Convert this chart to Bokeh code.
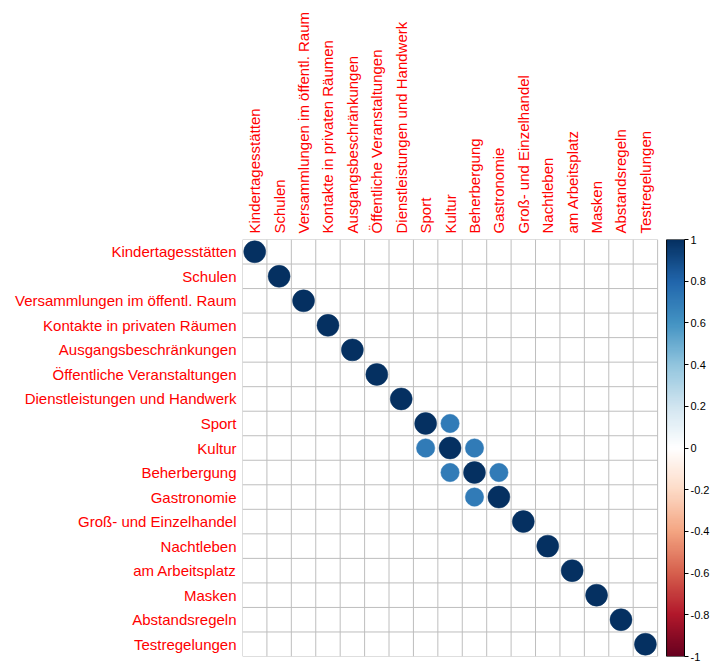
import numpy as np
from math import pi
from bokeh.plotting import figure
from bokeh.models import (Range1d, FixedTicker, LinearAxis, ColumnDataSource,
                          LinearColorMapper, CustomJSTickFormatter)
from bokeh.transform import transform
from bokeh.embed import file_html
from bokeh.resources import INLINE

# ---------------- data ----------------
variables = [
    "Kindertagesstätten", "Schulen", "Versammlungen im öffentl. Raum",
    "Kontakte in privaten Räumen", "Ausgangsbeschränkungen",
    "Öffentliche Veranstaltungen", "Dienstleistungen und Handwerk", "Sport",
    "Kultur", "Beherbergung", "Gastronomie", "Groß- und Einzelhandel",
    "Nachtleben", "am Arbeitsplatz", "Masken", "Abstandsregeln", "Testregelungen",
]

corr = [
    [1, 0, 0, 0, 0, 0, 0, 0, 0, 0, 0, 0, 0, 0, 0, 0, 0],
    [0, 1, 0, 0, 0, 0, 0, 0, 0, 0, 0, 0, 0, 0, 0, 0, 0],
    [0, 0, 1, 0, 0, 0, 0, 0, 0, 0, 0, 0, 0, 0, 0, 0, 0],
    [0, 0, 0, 1, 0, 0, 0, 0, 0, 0, 0, 0, 0, 0, 0, 0, 0],
    [0, 0, 0, 0, 1, 0, 0, 0, 0, 0, 0, 0, 0, 0, 0, 0, 0],
    [0, 0, 0, 0, 0, 1, 0, 0, 0, 0, 0, 0, 0, 0, 0, 0, 0],
    [0, 0, 0, 0, 0, 0, 1, 0, 0, 0, 0, 0, 0, 0, 0, 0, 0],
    [0, 0, 0, 0, 0, 0, 0, 1, 0.7, 0, 0, 0, 0, 0, 0, 0, 0],
    [0, 0, 0, 0, 0, 0, 0, 0.7, 1, 0.7, 0, 0, 0, 0, 0, 0, 0],
    [0, 0, 0, 0, 0, 0, 0, 0, 0.7, 1, 0.7, 0, 0, 0, 0, 0, 0],
    [0, 0, 0, 0, 0, 0, 0, 0, 0, 0.7, 1, 0, 0, 0, 0, 0, 0],
    [0, 0, 0, 0, 0, 0, 0, 0, 0, 0, 0, 1, 0, 0, 0, 0, 0],
    [0, 0, 0, 0, 0, 0, 0, 0, 0, 0, 0, 0, 1, 0, 0, 0, 0],
    [0, 0, 0, 0, 0, 0, 0, 0, 0, 0, 0, 0, 0, 1, 0, 0, 0],
    [0, 0, 0, 0, 0, 0, 0, 0, 0, 0, 0, 0, 0, 0, 1, 0, 0],
    [0, 0, 0, 0, 0, 0, 0, 0, 0, 0, 0, 0, 0, 0, 0, 1, 0],
    [0, 0, 0, 0, 0, 0, 0, 0, 0, 0, 0, 0, 0, 0, 0, 0, 1],
]

colorbar_ticks = [-1, -0.8, -0.6, -0.4, -0.2, 0, 0.2, 0.4, 0.6, 0.8, 1]

# ---------------- palette (corrplot RdBu) ----------------
anchors = ["#67001F", "#B2182B", "#D6604D", "#F4A582", "#FDDBC7", "#FFFFFF",
           "#D1E5F0", "#92C5DE", "#4393C3", "#2166AC", "#053061"]


def ramp(cols, n):
    rgb = np.array([[int(c[i:i + 2], 16) for i in (1, 3, 5)] for c in cols], float)
    pos = np.linspace(0, 1, len(cols))
    t = np.linspace(0, 1, n)
    out = np.stack([np.interp(t, pos, rgb[:, k]) for k in range(3)], axis=1)
    return ["#%02x%02x%02x" % tuple(int(round(v)) for v in row) for row in out]


palette = ramp(anchors, 200)
mapper = LinearColorMapper(palette=palette, low=-1, high=1)

# ---------------- layout ----------------
n = len(variables)
W, H = 712, 668
LEFT, TOP = 242, 239
FRAME_H = 417
CELL = FRAME_H / n
GAP = 9
BAR = 18
FRAME_W = FRAME_H + GAP + BAR
extra = (GAP + BAR) / CELL
LABEL_FONT = "Liberation Sans"

p = figure(
    width=W, height=H,
    x_range=Range1d(-0.5, n - 0.5 + extra), y_range=Range1d(n - 0.5, -0.5),
    x_axis_location="above", y_axis_location="left",
    output_backend="svg", toolbar_location=None,
    min_border_left=LEFT, min_border_top=TOP,
    min_border_right=W - LEFT - FRAME_W, min_border_bottom=H - TOP - FRAME_H,
    outline_line_color=None, background_fill_color="white", border_fill_color="white",
)
p.extra_y_ranges = {"cb": Range1d(-1, 1)}
p.xgrid.visible = False
p.ygrid.visible = False

# grid
edges = np.arange(n + 1) - 0.5
p.segment(x0=edges, y0=-0.5, x1=edges, y1=n - 0.5, line_color="#BEBEBE", line_width=1)
p.segment(x0=-0.5, y0=edges, x1=n - 0.5, y1=edges, line_color="#BEBEBE", line_width=1)

# circles
xs, ys, vals = [], [], []
for i, row in enumerate(corr):
    for j, v in enumerate(row):
        if v != 0:
            xs.append(j)
            ys.append(i)
            vals.append(v)
vals = np.array(vals, float)
src = ColumnDataSource(dict(x=xs, y=ys, r=vals, rad=0.45 * np.sqrt(np.abs(vals))))
p.circle(x="x", y="y", radius="rad", source=src,
         fill_color=transform("r", mapper), line_color=transform("r", mapper), line_width=0.5)

# axes (labels)
fmt_code = "return names[Math.round(tick)] || '';"
for ax in (p.xaxis[0], p.yaxis[0]):
    ax.ticker = FixedTicker(ticks=list(range(n)))
    ax.formatter = CustomJSTickFormatter(args=dict(names=variables), code=fmt_code)
    ax.axis_line_color = None
    ax.major_tick_line_color = None
    ax.major_tick_in = 0
    ax.major_tick_out = 0
    ax.minor_tick_line_color = None
    ax.minor_tick_in = 0
    ax.minor_tick_out = 0
    ax.major_label_text_color = "#FF0000"
    ax.major_label_text_font = LABEL_FONT
    ax.major_label_text_font_size = "15px"
    ax.major_label_standoff = 6
p.xaxis[0].major_label_orientation = pi / 2

# color bar
grad = np.linspace(-1, 1, 400).reshape(400, 1)
x0 = n - 0.5 + GAP / CELL
p.image(image=[grad], x=x0, y=-1, dw=BAR / CELL, dh=2, color_mapper=mapper, y_range_name="cb")
p.quad(left=x0, right=n - 0.5 + extra, bottom=-1, top=1, fill_color=None,
       line_color="black", line_width=1, y_range_name="cb")

cb_axis = LinearAxis(
    y_range_name="cb", ticker=FixedTicker(ticks=colorbar_ticks),
    formatter=CustomJSTickFormatter(code="const s = tick.toFixed(1); return s.endsWith('.0') ? s.slice(0, -2) : s;"),
    axis_line_color="black", major_tick_line_color="black", major_tick_in=0, major_tick_out=4,
    minor_tick_line_color=None, minor_tick_in=0, minor_tick_out=0, major_label_text_font=LABEL_FONT,
    major_label_text_font_size="11px", major_label_text_color="black", major_label_standoff=2,
)
p.add_layout(cb_axis, "right")

open("out.html", "w").write(file_html(p, INLINE))
